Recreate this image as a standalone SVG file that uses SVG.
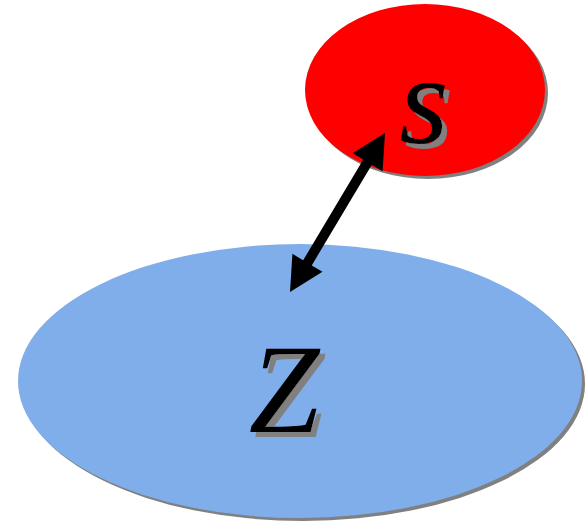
<svg xmlns="http://www.w3.org/2000/svg" width="588" height="523" viewBox="0 0 588 523">
<style>
.shadow{fill:#808080}
text{font-family:'Liberation Serif','Times New Roman',Times,serif;font-style:italic;font-size:127px;text-anchor:middle;fill:#000}
</style>
<defs>
<filter id="ts" x="-30%" y="-30%" width="160%" height="160%">
<feOffset in="SourceAlpha" dx="5" dy="5" result="o"/>
<feFlood flood-color="#808080"/>
<feComposite in2="o" operator="in" result="sh"/>
<feMerge><feMergeNode in="sh"/><feMergeNode in="SourceGraphic"/></feMerge>
</filter>
</defs>
<g id="node-Z">
<ellipse class="shadow" cx="303" cy="384" rx="282" ry="137"/>
<ellipse cx="300" cy="381" rx="282" ry="137" fill="#7FAEEB"/>
<text x="284" y="432" filter="url(#ts)">Z</text>
</g>
<g id="node-s">
<ellipse class="shadow" cx="428" cy="93" rx="120" ry="86"/>
<ellipse cx="425" cy="90" rx="120" ry="86" fill="#FF0000"/>
<text x="424" y="143" filter="url(#ts)">s</text>
</g>
<g id="connectors">
<polygon fill="#000" points="385,133 382.58,171.15 371.85,164.74 311.73,265.4 322.46,271.81 290,292 292.42,253.85 303.15,260.26 363.27,159.6 352.54,153.19"/>
</g>
</svg>
